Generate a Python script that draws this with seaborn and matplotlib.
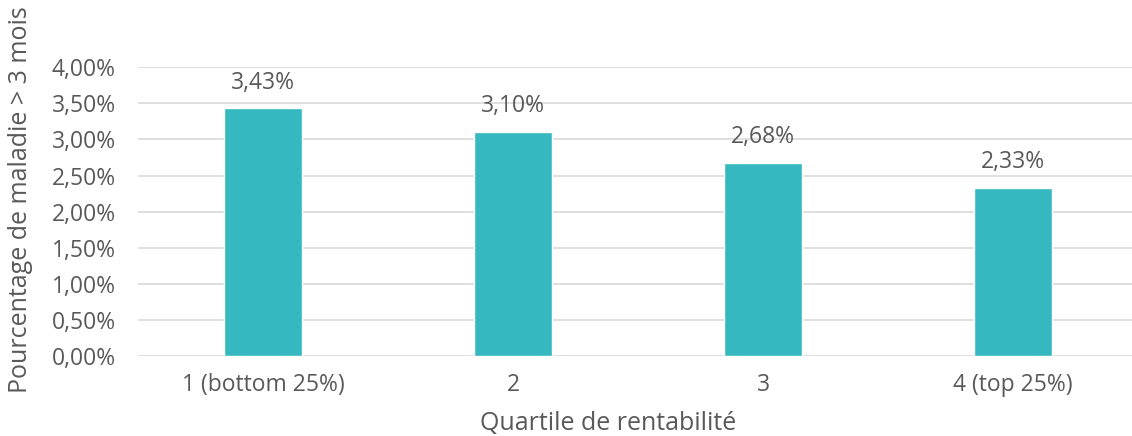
import matplotlib
matplotlib.use("Agg")
import matplotlib.pyplot as plt
import seaborn as sns
import pandas as pd
from matplotlib.ticker import FuncFormatter

categories = ["1 (bottom 25%)", "2", "3", "4 (top 25%)"]
values = [3.43, 3.10, 2.68, 2.33]  # percent
y_ticks = [0.0, 0.5, 1.0, 1.5, 2.0, 2.5, 3.0, 3.5, 4.0]

sns.set_theme(style="white")
plt.rcParams["font.family"] = ["Open Sans", "DejaVu Sans"]

TEXT = "#595959"
BAR = "#36B8C0"
GRID = "#D9D9D9"

df = pd.DataFrame({"quartile": categories, "pct": values})

fig = plt.figure(figsize=(11.32, 4.36), dpi=100)
ax = fig.add_axes([138 / 1132, 80 / 436, 1000 / 1132, 288.7 / 436])

sns.barplot(data=df, x="quartile", y="pct", color=BAR, width=0.31,
            saturation=1, ax=ax, zorder=3)

ax.set_ylim(0, 4.0)
ax.set_xlim(-0.5, 3.5)
ax.set_yticks(y_ticks)
ax.yaxis.set_major_formatter(FuncFormatter(lambda v, p: f"{v:.2f}%".replace(".", ",")))
ax.grid(axis="y", color=GRID, linewidth=1.2, zorder=0)
ax.grid(axis="x", visible=False)
for s in ax.spines.values():
    s.set_visible(False)
ax.tick_params(axis="both", length=0, labelsize=16.5, colors=TEXT)
ax.tick_params(axis="y", pad=16)
ax.tick_params(axis="x", pad=12)

for i, v in enumerate(values):
    ax.annotate(f"{v:.2f}%".replace(".", ","), (i, v), xytext=(0, 10),
                textcoords="offset points", ha="center", va="bottom",
                fontsize=16.5, color=TEXT)

ax.set_xlabel("Quartile de rentabilité", fontsize=18, color=TEXT)
ax.set_ylabel("Pourcentage de maladie > 3 mois", fontsize=18, color=TEXT)
ax.xaxis.set_label_coords(0.47, -0.19)
ax.yaxis.set_label_coords(-0.105, 0.54)

fig.savefig("out.png", dpi=100)
